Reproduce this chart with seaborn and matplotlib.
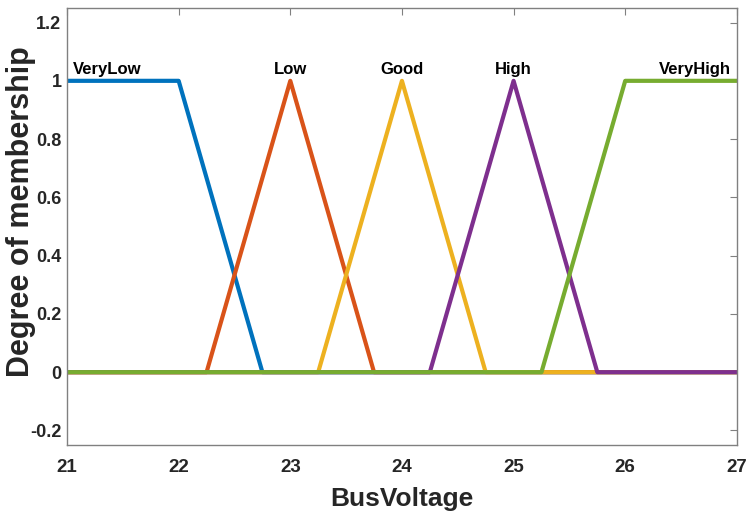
import numpy as np
import pandas as pd
import matplotlib
matplotlib.use('Agg')
import matplotlib.pyplot as plt
import seaborn as sns

# membership functions (breakpoints)
names = ['VeryLow', 'Low', 'Good', 'High', 'VeryHigh']
mf_x = [
    [21, 22, 22.75, 27],
    [21, 22.25, 23, 23.75, 27],
    [21, 23.25, 24, 24.75, 27],
    [21, 24.25, 25, 25.75, 27],
    [21, 25.25, 26, 27],
]
mf_y = [
    [1, 1, 0, 0],
    [0, 0, 1, 0, 0],
    [0, 0, 1, 0, 0],
    [0, 0, 1, 0, 0],
    [0, 0, 1, 1],
]
label_x = [21.05, 23, 24, 25, 26.95]
label_ha = ['left', 'center', 'center', 'center', 'right']
colors = ['#0072BD', '#D95319', '#EDB120', '#7E2F8E', '#77AC30']

sns.set_style('white')
plt.rcParams['font.family'] = ['Liberation Sans Narrow', 'Liberation Sans', 'DejaVu Sans']
plt.rcParams['font.weight'] = 'bold'

rows = []
for n, xs, ys in zip(names, mf_x, mf_y):
    for i, (a, b) in enumerate(zip(xs, ys)):
        rows.append({'mf': n, 'x': a, 'y': b, 'order': i})
df = pd.DataFrame(rows)

fig = plt.figure(figsize=(7.48, 5.19), dpi=100)
ax = fig.add_axes([0.0896, 0.1426, 0.8955, 0.842])

sns.lineplot(data=df, x='x', y='y', hue='mf', hue_order=names, palette=colors,
             estimator=None, sort=False, units='mf', linewidth=3, legend=False, ax=ax)

for n, lx, ha in zip(names, label_x, label_ha):
    ax.text(lx, 1.012, n, ha=ha, va='bottom', fontsize=12, fontweight='bold', color='black')

ax.set_xlim(21, 27)
ax.set_ylim(-0.25, 1.25)
ax.set_xticks(range(21, 28))
ax.set_yticks([-0.2, 0, 0.2, 0.4, 0.6, 0.8, 1, 1.2])
ax.set_yticklabels(['-0.2', '0', '0.2', '0.4', '0.6', '0.8', '1', '1.2'])
ax.tick_params(direction='in', length=5, color='#808080', labelsize=13, top=True, right=True,
               labelcolor='#262626')
ax.tick_params(axis='x', pad=10, labelsize=13.5)
ax.tick_params(axis='y', pad=4)
for lab in ax.get_xticklabels() + ax.get_yticklabels():
    lab.set_fontweight('bold')
for s in ax.spines.values():
    s.set_color('#808080')
    s.set_linewidth(1)
ax.set_xlabel('BusVoltage', fontsize=19, fontweight='bold', color='#262626', labelpad=8)
ax.set_ylabel('Degree of membership', fontsize=22, fontweight='bold', color='#262626')
ax.yaxis.set_label_coords(-0.047, 0.535)

fig.savefig('out.png', dpi=100)
